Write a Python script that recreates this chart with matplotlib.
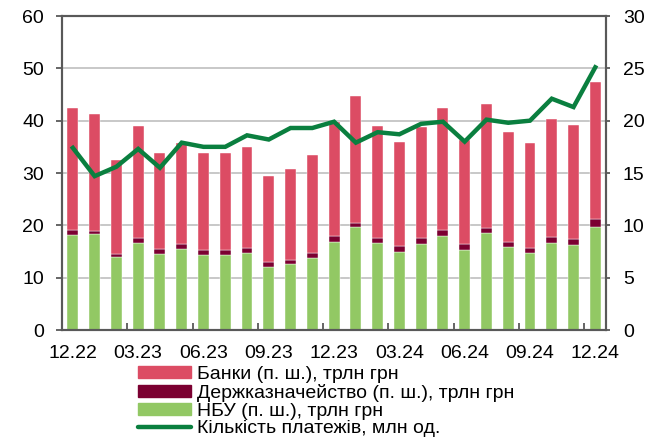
import numpy as np
import matplotlib.pyplot as plt
from matplotlib.lines import Line2D
from matplotlib.patches import Patch

plt.rcParams['font.family'] = ['Liberation Sans', 'DejaVu Sans']

months = ['12.22', '01.23', '02.23', '03.23', '04.23', '05.23', '06.23', '07.23', '08.23',
          '09.23', '10.23', '11.23', '12.23', '01.24', '02.24', '03.24', '04.24', '05.24',
          '06.24', '07.24', '08.24', '09.24', '10.24', '11.24', '12.24']
# трлн грн
nbu = [18.1, 18.3, 14.0, 16.6, 14.5, 15.4, 14.3, 14.3, 14.8, 12.0, 12.6, 13.8, 16.8,
       19.7, 16.6, 15.0, 16.5, 18.0, 15.3, 18.5, 15.9, 14.7, 16.6, 16.2, 19.7]
treasury = [1.0, 0.7, 0.6, 0.9, 1.0, 1.0, 0.9, 1.0, 0.9, 0.9, 0.8, 1.0, 1.2,
            0.8, 1.0, 1.1, 1.0, 1.1, 1.1, 0.9, 1.0, 1.0, 1.2, 1.1, 1.6]
banks = [23.3, 22.3, 17.9, 21.4, 18.3, 19.4, 18.7, 18.6, 19.2, 16.5, 17.3, 18.6, 21.8,
         24.3, 21.3, 19.8, 21.2, 23.4, 19.9, 23.8, 20.9, 20.0, 22.5, 21.9, 26.0]
# млн од.
payments = [17.4, 14.7, 15.6, 17.3, 15.5, 17.9, 17.5, 17.5, 18.6, 18.2, 19.3, 19.3, 19.9,
            17.9, 18.9, 18.7, 19.7, 19.9, 18.0, 20.1, 19.8, 20.0, 22.1, 21.3, 25.1]

c_banks = '#DC4C64'
c_treas = '#7B0031'
c_nbu = '#92C864'
c_line = '#0A7F3F'
c_axis = '#595959'
fs = 14

x = np.arange(len(months))
fig = plt.figure(figsize=(6.49, 4.41), dpi=100)
ax = fig.add_axes([0.0955, 0.2517, 0.8385, 0.712])

ax.bar(x, nbu, width=0.5, color=c_nbu, edgecolor='white', linewidth=0.3, zorder=2)
ax.bar(x, treasury, width=0.5, bottom=nbu, color=c_treas, edgecolor='white', linewidth=0.3, zorder=2)
bot2 = np.array(nbu) + np.array(treasury)
ax.bar(x, banks, width=0.5, bottom=bot2, color=c_banks, edgecolor='white', linewidth=0.3, zorder=2)

ax.set_xlim(-0.5, len(months) - 0.5)
ax.set_ylim(0, 60)
ax.set_yticks(range(0, 61, 10))
ax.yaxis.grid(True, color='#BFBFBF', linewidth=1.2, zorder=0)
ax.set_axisbelow(True)

ax.set_xticks(x[::3])
ax.set_xticklabels(months[::3])
ax.set_xticks(np.arange(2.5, len(months), 3), minor=True)
ax.tick_params(axis='x', which='major', length=0, pad=11, labelsize=fs)
ax.tick_params(axis='x', which='minor', direction='in', length=5, width=1.3, color=c_axis)
ax.tick_params(axis='y', direction='out', length=4, width=1.3, color=c_axis, labelsize=fs, pad=9)

ax2 = ax.twinx()
ax2.plot(x, payments, color=c_line, linewidth=3.2, solid_joinstyle='miter', zorder=3)
ax2.set_ylim(0, 30)
ax2.set_yticks(range(0, 31, 5))
ax2.tick_params(axis='y', direction='out', length=3, width=1.3, color=c_axis, labelsize=fs, pad=9)

for a in (ax, ax2):
    for s in a.spines.values():
        s.set_color(c_axis)
        s.set_linewidth(1.5)

handles = [Patch(color=c_banks), Patch(color=c_treas), Patch(color=c_nbu),
           Line2D([0], [0], color=c_line, linewidth=3.2, solid_capstyle='round')]
labels = ['Банки (п. ш.), трлн грн', 'Держказначейство (п. ш.), трлн грн',
          'НБУ (п. ш.), трлн грн', 'Кількість платежів, млн од.']
fig.legend(handles, labels, loc='upper left', bbox_to_anchor=(0.213, 0.17),
           frameon=False, fontsize=fs, handlelength=2.7, handleheight=0.55,
           handletextpad=0.3, labelspacing=0.04, borderaxespad=0, borderpad=0)

fig.savefig('out.png', dpi=100)
